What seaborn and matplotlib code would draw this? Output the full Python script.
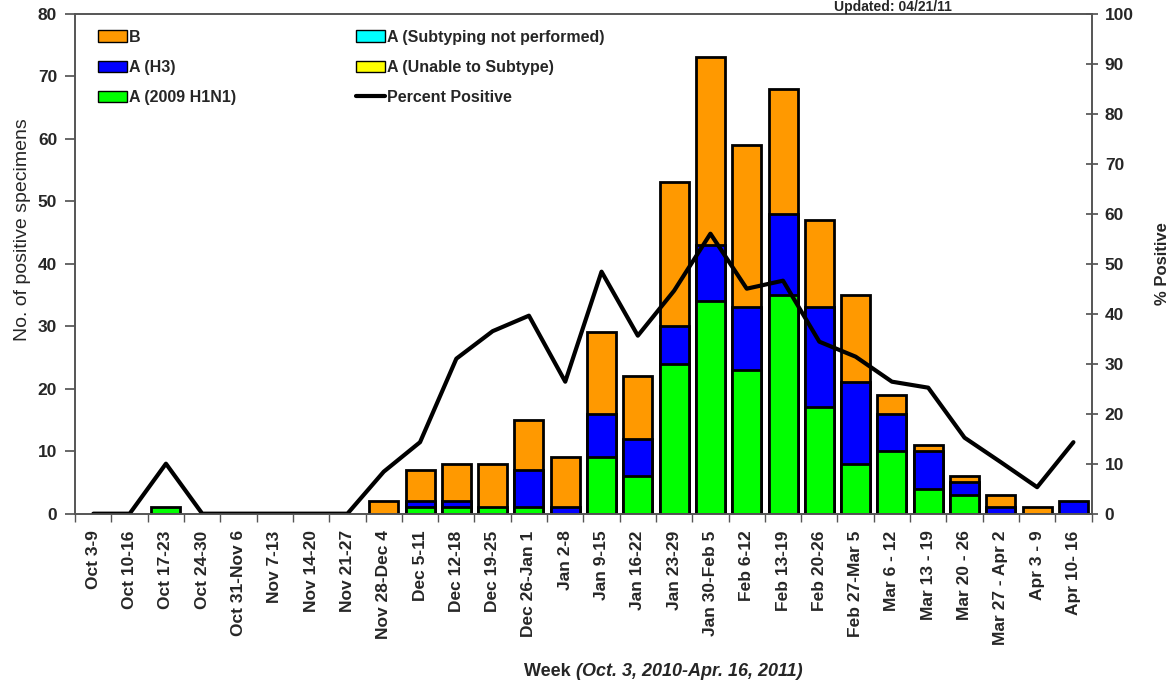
import numpy as np
import pandas as pd
import seaborn as sns
import matplotlib.pyplot as plt
from matplotlib.patches import Patch
from matplotlib.lines import Line2D

sns.set_theme(style="ticks")
plt.rcParams['font.family'] = ['Liberation Sans', 'DejaVu Sans']

weeks = ["Oct 3-9", "Oct 10-16", "Oct 17-23", "Oct 24-30", "Oct 31-Nov 6",
         "Nov 7-13", "Nov 14-20", "Nov 21-27", "Nov 28-Dec 4", "Dec 5-11",
         "Dec 12-18", "Dec 19-25", "Dec 26-Jan 1", "Jan 2-8", "Jan 9-15",
         "Jan 16-22", "Jan 23-29", "Jan 30-Feb 5", "Feb 6-12", "Feb 13-19",
         "Feb 20-26", "Feb 27-Mar 5", "Mar 6 - 12", "Mar 13 - 19", "Mar 20 - 26",
         "Mar 27 - Apr 2", "Apr 3 - 9", "Apr 10- 16"]
h1n1 = [0, 0, 1, 0, 0, 0, 0, 0, 0, 1, 1, 1, 1, 0, 9, 6, 24, 34, 23, 35,
        17, 8, 10, 4, 3, 0, 0, 0]
h3 = [0, 0, 0, 0, 0, 0, 0, 0, 0, 1, 1, 0, 6, 1, 7, 6, 6, 9, 10, 13,
      16, 13, 6, 6, 2, 1, 0, 2]
flu_b = [0, 0, 0, 0, 0, 0, 0, 0, 2, 5, 6, 7, 8, 8, 13, 10, 23, 30, 26, 20,
         14, 14, 3, 1, 1, 2, 1, 0]
not_performed = [0] * 28
unable = [0] * 28
pct_positive = [0, 0, 10, 0, 0, 0, 0, 0, 8.4, 14.3, 31, 36.5, 39.6, 26.4, 48.4,
                35.6, 44.6, 56, 45, 46.6, 34.4, 31.4, 26.4, 25.2, 15.2, 10.3, 5.3, 14.3]

c_b, c_h3, c_h1 = "#FF9900", "#0000FF", "#00FF00"
c_np, c_un = "#00FFFF", "#FFFF00"

df = pd.DataFrame({"week": weeks, "h1n1": h1n1, "h3": h3, "b": flu_b,
                   "np": not_performed, "un": unable})
# cumulative stacks, drawn from the top layer down
df["s_h1"] = df["h1n1"]
df["s_h3"] = df["s_h1"] + df["h3"]
df["s_un"] = df["s_h3"] + df["un"]
df["s_np"] = df["s_un"] + df["np"]
df["s_b"] = df["s_np"] + df["b"]

fig, ax = plt.subplots(figsize=(11.75, 6.84), dpi=100)
fig.subplots_adjust(left=0.064, right=0.929, top=0.98, bottom=0.249)

for col, colr, prev in [("s_b", c_b, "s_np"), ("s_np", c_np, "s_un"),
                        ("s_un", c_un, "s_h3"), ("s_h3", c_h3, "s_h1"),
                        ("s_h1", c_h1, None)]:
    d = df[["week", col]].copy()
    # only draw a layer where it adds something
    own = d[col] - (df[prev] if prev else 0)
    d.loc[own <= 0, col] = np.nan
    d = d.dropna()
    sns.barplot(data=d, x="week", y=col, order=weeks, color=colr, saturation=1,
                width=0.8, edgecolor="black", linewidth=2, ax=ax, errorbar=None)

ax.set_ylim(0, 80)
ax.set_xlim(-0.5, len(weeks) - 0.5)
ax.set_yticks(np.arange(0, 81, 10))
ax.set_xticks(np.arange(len(weeks)))
ax.set_xticklabels(weeks, rotation=90, fontsize=12.5, fontweight="bold")
ax.set_xticks(np.arange(len(weeks) + 1) - 0.5, minor=True)
ax.tick_params(axis="x", which="major", length=0, pad=12)
ax.tick_params(axis="x", which="minor", length=6, width=1, direction="out",
               color="#555555")
ax.tick_params(axis="y", labelsize=12.5, length=7, direction="out", pad=6,
               color="#555555")
for lab in ax.get_yticklabels():
    lab.set_fontweight("bold")
ax.set_ylabel("No. of positive specimens", fontsize=14)
ax.yaxis.set_label_coords(-0.043, 0.568)
ax.set_xlabel("")
for s in ax.spines.values():
    s.set_color("#555555")
    s.set_linewidth(1.2)

ax2 = ax.twinx()
sns.lineplot(x=np.arange(len(weeks)), y=pct_positive, color="black",
             linewidth=3, ax=ax2)
ax2.set_ylim(0, 100)
ax2.set_yticks(np.arange(0, 101, 10))
ax2.tick_params(axis="y", labelsize=12.5, length=9, direction="inout", pad=5,
                color="#555555")
for lab in ax2.get_yticklabels():
    lab.set_fontweight("bold")
ax2.set_ylabel("% Positive", fontsize=12, fontweight="bold", labelpad=15)
for s in ax2.spines.values():
    s.set_color("#555555")
    s.set_linewidth(1.2)

handles = [Patch(facecolor=c_b, edgecolor="black"),
           Patch(facecolor=c_h3, edgecolor="black"),
           Patch(facecolor=c_h1, edgecolor="black"),
           Patch(facecolor=c_np, edgecolor="black"),
           Patch(facecolor=c_un, edgecolor="black"),
           Line2D([0], [0], color="black", linewidth=3)]
labels = ["B", "A (H3)", "A (2009 H1N1)", "A (Subtyping not performed)",
          "A (Unable to Subtype)", "Percent Positive"]
leg = ax.legend(handles, labels, ncol=2, loc="upper left", frameon=False,
                bbox_to_anchor=(0.008, 0.997), handlelength=1.85, handleheight=0.7,
                handletextpad=0.1, columnspacing=7.5, labelspacing=0.95,
                prop={"size": 11.5, "weight": "bold"})

fig.text(0.49, 0.012, "Week ", ha="right", fontsize=13, fontweight="bold")
fig.text(0.49, 0.012, "(Oct. 3, 2010-Apr. 16, 2011)", ha="left", fontsize=13,
         fontweight="bold", style="italic")
fig.text(0.76, 1.0, "Updated: 04/21/11", ha="center", va="top",
         fontsize=10, fontweight="bold")

fig.savefig("out.png", dpi=100)
